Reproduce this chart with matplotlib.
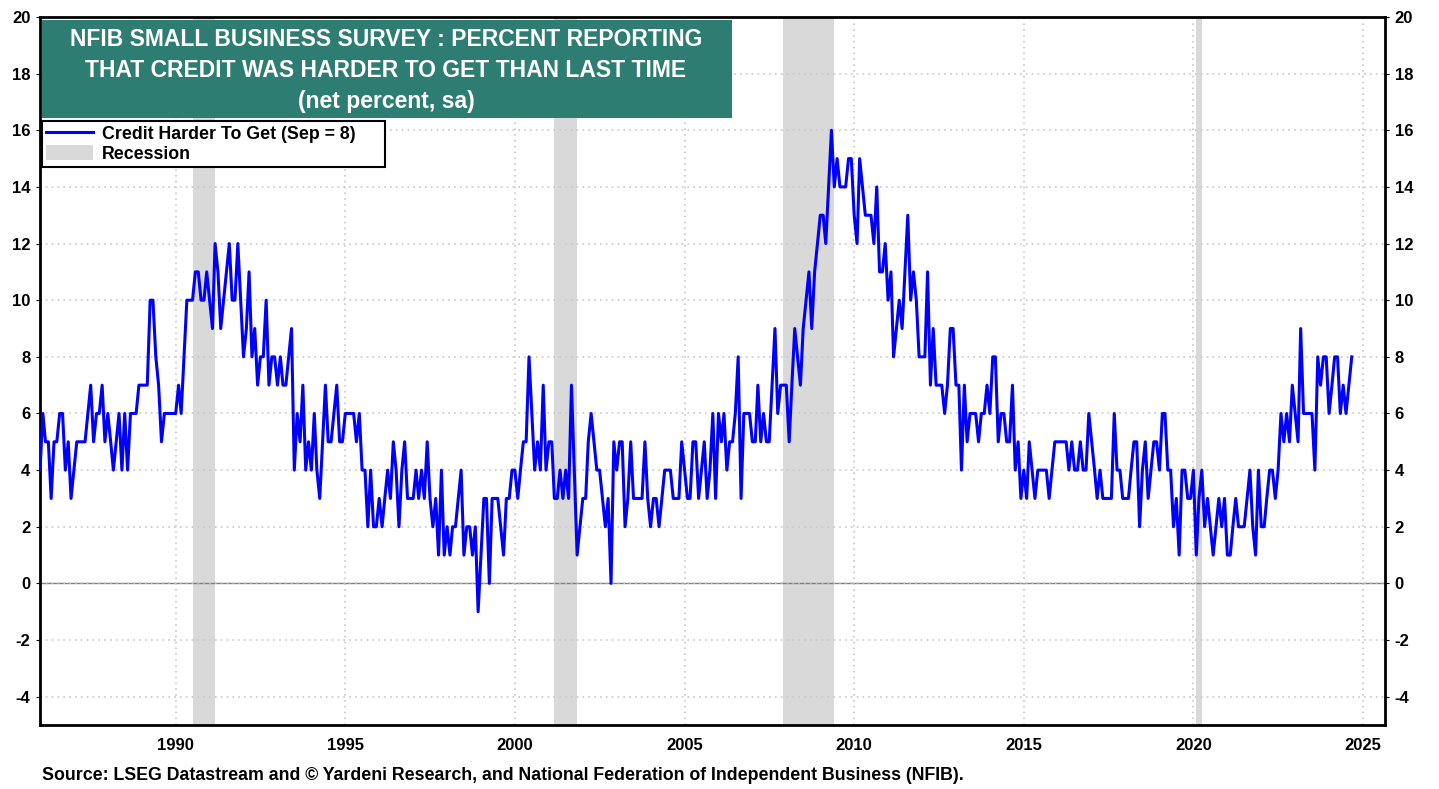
import pandas as pd
import matplotlib
matplotlib.use('Agg')
import matplotlib.pyplot as plt
import matplotlib.dates as mdates
from matplotlib.patches import Rectangle, Patch
from matplotlib.lines import Line2D

plt.rcParams['font.family'] = ['Liberation Sans', 'DejaVu Sans']
plt.rcParams['font.weight'] = 'bold'
plt.rcParams['axes.unicode_minus'] = False

# NFIB: net percent reporting credit harder to get, monthly from Jan 1986
credit_harder = [
    4, 6, 5, 5, 3, 5, 5, 6, 6, 4, 5, 3,          # 1986
    4, 5, 5, 5, 5, 6, 7, 5, 6, 6, 7, 5,          # 1987
    6, 5, 4, 5, 6, 4, 6, 4, 6, 6, 6, 7,          # 1988
    7, 7, 7, 10, 10, 8, 7, 5, 6, 6, 6, 6,        # 1989
    6, 7, 6, 8, 10, 10, 10, 11, 11, 10, 10, 11,  # 1990
    10, 9, 12, 11, 9, 10, 11, 12, 10, 10, 12, 10,  # 1991
    8, 9, 11, 8, 9, 7, 8, 8, 10, 7, 8, 8,        # 1992
    7, 8, 7, 7, 8, 9, 4, 6, 5, 7, 4, 5,          # 1993
    4, 6, 4, 3, 5, 7, 5, 5, 6, 7, 5, 5,          # 1994
    6, 6, 6, 6, 5, 6, 4, 4, 2, 4, 2, 2,          # 1995
    3, 2, 3, 4, 3, 5, 4, 2, 4, 5, 3, 3,          # 1996
    3, 4, 3, 4, 3, 5, 3, 2, 3, 1, 4, 1,          # 1997
    2, 1, 2, 2, 3, 4, 1, 2, 2, 1, 2, -1,         # 1998
    1, 3, 3, 0, 3, 3, 3, 2, 1, 3, 3, 4,          # 1999
    4, 3, 4, 5, 5, 8, 6, 4, 5, 4, 7, 4,          # 2000
    5, 5, 3, 3, 4, 3, 4, 3, 7, 4, 1, 2,          # 2001
    3, 3, 5, 6, 5, 4, 4, 3, 2, 3, 0, 5,          # 2002
    4, 5, 5, 2, 3, 5, 3, 3, 3, 3, 5, 3,          # 2003
    2, 3, 3, 2, 3, 4, 4, 4, 3, 3, 3, 5,          # 2004
    4, 3, 3, 5, 5, 3, 4, 5, 3, 4, 6, 3,          # 2005
    6, 5, 6, 4, 5, 5, 6, 8, 3, 6, 6, 6,          # 2006
    5, 5, 7, 5, 6, 5, 5, 7, 9, 6, 7, 7,          # 2007
    7, 5, 7, 9, 8, 7, 9, 10, 11, 9, 11, 12,      # 2008
    13, 13, 12, 14, 16, 14, 15, 14, 14, 14, 15, 15,  # 2009
    13, 12, 15, 14, 13, 13, 13, 12, 14, 11, 11, 12,  # 2010
    10, 11, 8, 9, 10, 9, 11, 13, 10, 11, 10, 8,  # 2011
    8, 8, 11, 7, 9, 7, 7, 7, 6, 7, 9, 9,         # 2012
    7, 7, 4, 7, 5, 6, 6, 6, 5, 6, 6, 7,          # 2013
    6, 8, 8, 5, 6, 6, 5, 5, 7, 4, 5, 3,          # 2014
    4, 3, 5, 4, 3, 4, 4, 4, 4, 3, 4, 5,          # 2015
    5, 5, 5, 5, 4, 5, 4, 4, 5, 4, 4, 6,          # 2016
    5, 4, 3, 4, 3, 3, 3, 3, 6, 4, 4, 3,          # 2017
    3, 3, 4, 5, 5, 2, 4, 5, 3, 4, 5, 5,          # 2018
    4, 6, 6, 4, 4, 2, 3, 1, 4, 4, 3, 3,          # 2019
    4, 1, 3, 4, 2, 3, 2, 1, 2, 3, 2, 3,          # 2020
    1, 1, 2, 3, 2, 2, 2, 3, 4, 2, 1, 4,          # 2021
    2, 2, 3, 4, 4, 3, 4, 6, 5, 6, 5, 7,          # 2022
    6, 5, 9, 6, 6, 6, 6, 4, 8, 7, 8, 8,          # 2023
    6, 7, 8, 8, 6, 7, 6, 7, 8,                   # 2024
]
start_month = '1986-01-01'

rec_start = ['1990-07-01', '2001-03-01', '2007-12-01', '2020-02-01']
rec_end = ['1991-03-01', '2001-11-01', '2009-06-01', '2020-04-01']

year_ticks = [1990, 1995, 2000, 2005, 2010, 2015, 2020, 2025]
y_ticks = list(range(-4, 21, 2))

title_lines = ['NFIB SMALL BUSINESS SURVEY : PERCENT REPORTING',
               'THAT CREDIT WAS HARDER TO GET THAN LAST TIME',
               '(net percent, sa)']
source = ('Source: LSEG Datastream and \u00a9 Yardeni Research, and National '
          'Federation of Independent Business (NFIB).')

dates = pd.date_range(start_month, periods=len(credit_harder), freq='MS')

W, H = 1439, 789
fig = plt.figure(figsize=(W / 100, H / 100), dpi=100)
ax = fig.add_axes([40 / W, 1 - 725 / H, (1385 - 40) / W, (725 - 17) / H])

for s, e in zip(rec_start, rec_end):
    ax.axvspan(pd.Timestamp(s), pd.Timestamp(e), color='#d9d9d9', lw=0, zorder=0)

ax.axhline(0, color='#808080', lw=1, zorder=1)
ax.plot(dates, credit_harder, color='#0000ff', lw=2.2, zorder=3)

ax.set_ylim(-5, 20)
ax.set_xlim(pd.Timestamp('1986-01-01'), pd.Timestamp('2025-08-25'))
ax.set_yticks(y_ticks)
ax.set_xticks([pd.Timestamp(f'{y}-01-01') for y in year_ticks])
ax.xaxis.set_major_formatter(mdates.DateFormatter('%Y'))
ax.grid(True, color='#c8c8c8', ls=(0, (1, 2.5)), lw=1.2, zorder=0.5)
ax.tick_params(axis='y', left=True, right=True, labelleft=True, labelright=True,
               direction='out', length=3, labelsize=12, pad=4)
ax.tick_params(axis='x', direction='out', length=0, labelsize=12, pad=9)
for sp in ax.spines.values():
    sp.set_linewidth(2)

# title box
ax.add_patch(Rectangle((0.0015, 0.857), 0.513, 0.139, transform=ax.transAxes,
                       facecolor='#2e7d72', edgecolor='none', zorder=5))
for ty, line in zip([0.968, 0.924, 0.880], title_lines):
    ax.text(0.2572, ty, line, transform=ax.transAxes, ha='center', va='center',
            color='white', fontsize=16.5, fontweight='bold', zorder=6)

handles = [Line2D([], [], color='#0000ff', lw=2.2),
           Patch(facecolor='#d9d9d9', edgecolor='none')]
leg = ax.legend(handles, ['Credit Harder To Get (Sep = 8)', 'Recession'],
                loc='upper left', bbox_to_anchor=(0.0015, 0.0, 0.255, 0.853),
                mode='expand', fontsize=12.8, frameon=True, fancybox=False,
                framealpha=1, edgecolor='black', borderpad=0.25,
                labelspacing=0.12, handlelength=2.6, handleheight=0.9,
                handletextpad=0.5, borderaxespad=0)
leg.get_frame().set_linewidth(1.5)
leg.set_zorder(6)

fig.text(42 / W, 1 - 775 / H, source, ha='left', va='center', fontsize=12.8,
         fontweight='bold')

fig.savefig('out.png', dpi=100)
